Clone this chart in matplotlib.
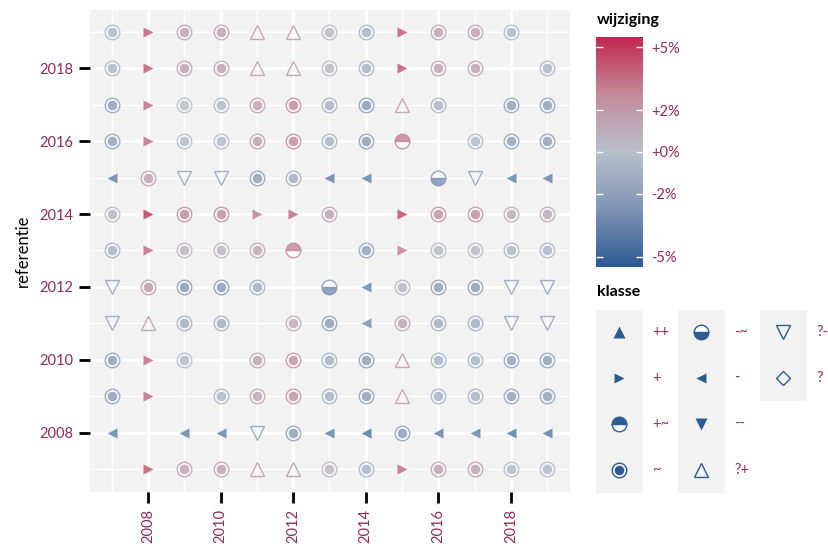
import numpy as np
import matplotlib
matplotlib.use("Agg")
import matplotlib.pyplot as plt
from matplotlib.colors import LinearSegmentedColormap, Normalize
from matplotlib.patches import Rectangle

plt.rcParams['font.family'] = ['Lato', 'DejaVu Sans']

# jaren (kolommen) en referentiejaren (rijen, van onder naar boven)
jaren = list(range(2007, 2020))
referenties = list(range(2007, 2020))

klasse = [
    ['', '+', '~', '~', '?+', '?+', '~', '~', '+', '~', '~', '~', '~'],      # 2007
    ['-', '', '-', '-', '?-', '~', '-', '-', '~', '-', '-', '-', '-'],       # 2008
    ['~', '+', '', '~', '~', '~', '~', '~', '?+', '~', '~', '~', '~'],       # 2009
    ['~', '+', '~', '', '~', '~', '~', '~', '?+', '~', '~', '~', '~'],       # 2010
    ['?-', '?+', '~', '~', '', '~', '~', '-', '~', '~', '~', '?-', '?-'],    # 2011
    ['?-', '~', '~', '~', '~', '', '-~', '-', '~', '~', '~', '?-', '?-'],    # 2012
    ['~', '+', '~', '~', '~', '+~', '', '~', '+', '~', '~', '~', '~'],       # 2013
    ['~', '+', '~', '~', '+', '+', '~', '', '+', '~', '~', '~', '~'],        # 2014
    ['-', '~', '?-', '?-', '~', '~', '-', '-', '', '-~', '?-', '-', '-'],    # 2015
    ['~', '+', '~', '~', '~', '~', '~', '~', '+~', '', '~', '~', '~'],       # 2016
    ['~', '+', '~', '~', '~', '~', '~', '~', '?+', '~', '', '~', '~'],       # 2017
    ['~', '+', '~', '~', '?+', '?+', '~', '~', '+', '~', '~', '', '~'],      # 2018
    ['~', '+', '~', '~', '?+', '?+', '~', '~', '+', '~', '~', '~', ''],      # 2019
]

nan = np.nan
wijziging = [
    [nan, 4.0, 1.5, 1.5, 2.0, 2.0, 0.5, -0.7, 3.5, 1.3, 1.5, -0.3, -0.3],
    [-3.5, nan, -3.5, -3.5, -1.8, -2.0, -3.5, -4.0, -2.0, -3.5, -3.5, -3.8, -3.8],
    [-2.0, 3.5, nan, -0.6, 1.3, 2.2, -0.9, -2.0, 2.0, -0.8, -0.8, -1.8, -1.8],
    [-2.0, 3.5, -0.3, nan, 1.3, 2.2, -0.9, -2.0, 2.0, -0.8, -0.8, -1.8, -1.8],
    [-1.8, 2.0, -1.0, -1.0, nan, 1.0, -2.0, -2.8, 1.3, -1.0, -1.0, -1.8, -1.8],
    [-1.8, 1.8, -2.2, -2.2, -1.0, nan, -2.5, -3.2, 0.5, -2.0, -2.0, -1.8, -1.8],
    [-0.7, 3.5, 0.6, 0.6, 1.2, 2.5, nan, -1.8, 3.0, 0.3, 0.3, -0.6, -0.6],
    [0.5, 5.0, 2.5, 2.5, 3.0, 3.5, 1.5, nan, 4.5, 2.2, 2.4, 1.0, 1.0],
    [-3.5, 1.5, -1.8, -1.8, -2.0, -1.0, -3.5, -3.5, nan, -2.5, -1.8, -3.5, -3.5],
    [-1.8, 3.5, -0.2, -0.3, 1.5, 2.6, -0.8, -2.0, 2.8, nan, -0.4, -1.8, -1.8],
    [-1.9, 3.5, -0.2, -0.4, 1.5, 2.6, -0.8, -2.2, 2.0, -0.7, nan, -1.8, -1.8],
    [-0.6, 4.0, 1.5, 1.5, 2.0, 2.0, 0.4, -0.8, 4.0, 1.5, 1.5, nan, -0.5],
    [-0.5, 4.0, 1.5, 1.5, 2.0, 2.0, 0.4, -0.8, 4.0, 1.5, 1.5, -0.5, nan],
]

legenda_klassen = [['++', '+', '+~', '~'], ['-~', '-', '--', '?+'], ['?-', '?']]

tekstkleur = '#8a2c5c'
donkerblauw = '#2d5b93'
cmap = LinearSegmentedColormap.from_list(
    'wijz', ['#2c5a92', '#7f93b3', '#b9c0cb', '#c48a9b', '#c1274e'])
norm = Normalize(-5.5, 5.5)


def teken(ax, x, y, k, kleur, alpha=0.85, schaal=1.0):
    """Tekent het symbool voor klasse k op (x, y)."""
    s = schaal
    if k == '~':
        ax.plot(x, y, 'o', ms=10.5 * s, mfc='none', mec=kleur, mew=1.0, alpha=alpha)
        ax.plot(x, y, 'o', ms=6.8 * s, mfc=kleur, mec='none', alpha=alpha)
    elif k == '+':
        ax.plot(x, y, '>', ms=7.5 * s, mfc=kleur, mec='none', alpha=alpha)
    elif k == '-':
        ax.plot(x, y, '<', ms=7.5 * s, mfc=kleur, mec='none', alpha=alpha)
    elif k == '++':
        ax.plot(x, y, '^', ms=8.5 * s, mfc=kleur, mec='none', alpha=alpha)
    elif k == '--':
        ax.plot(x, y, 'v', ms=8.5 * s, mfc=kleur, mec='none', alpha=alpha)
    elif k == '+~':
        ax.plot(x, y, 'o', ms=10.5 * s, fillstyle='top', mfc=kleur,
                markerfacecoloralt='white', mec=kleur, mew=1.0, alpha=alpha)
    elif k == '-~':
        ax.plot(x, y, 'o', ms=10.5 * s, fillstyle='bottom', mfc=kleur,
                markerfacecoloralt='white', mec=kleur, mew=1.0, alpha=alpha)
    elif k == '?+':
        ax.plot(x, y, '^', ms=9.5 * s, mfc='none', mec=kleur, mew=1.0, alpha=alpha)
    elif k == '?-':
        ax.plot(x, y, 'v', ms=9.5 * s, mfc='none', mec=kleur, mew=1.0, alpha=alpha)
    elif k == '?':
        ax.plot(x, y, 'D', ms=7.5 * s, mfc='none', mec=kleur, mew=1.0, alpha=alpha)


fig = plt.figure(figsize=(8.29, 5.44), dpi=100)
ax = fig.add_axes([90 / 829, 1 - 492 / 544, 480 / 829, 482 / 544])
ax.set_facecolor('#f2f2f2')

for i, ref in enumerate(referenties):
    for j, jaar in enumerate(jaren):
        k = klasse[i][j]
        if not k:
            continue
        teken(ax, jaar, ref, k, cmap(norm(wijziging[i][j])))

ax.set_xlim(2006.4, 2019.63)
ax.set_ylim(2006.37, 2019.6)
ax.set_xticks(range(2008, 2020, 2))
ax.set_yticks(range(2008, 2020, 2))
ax.set_xticks(range(2007, 2020, 2), minor=True)
ax.set_yticks(range(2007, 2020, 2), minor=True)
ax.grid(which='major', color='white', lw=2)
ax.grid(which='minor', color='white', lw=1)
ax.set_axisbelow(True)
ax.tick_params(which='major', length=8, width=2, color='black',
               labelcolor=tekstkleur, labelsize=10.5, pad=4)
ax.tick_params(which='minor', length=0)
ax.tick_params(axis='x', labelrotation=90)
for s in ax.spines.values():
    s.set_visible(False)
ax.set_ylabel('referentie', fontsize=12, labelpad=6)

# kleurenschaal
cax = fig.add_axes([596 / 829, 1 - 267 / 544, 47 / 829, 230 / 544])
cb = fig.colorbar(plt.cm.ScalarMappable(norm=norm, cmap=cmap), cax=cax)
cb.outline.set_visible(False)
cb.set_ticks([-5, -2, 0, 2, 5])
cb.set_ticklabels(['-5%', '-2%', '+0%', '+2%', '+5%'])
cax.tick_params(direction='in', color='white', length=5, width=1,
                left=True, right=True, labelcolor=tekstkleur, labelsize=10.5, pad=6)
fig.text(597 / 829, 1 - 20 / 544, 'wijziging', fontsize=11.5, fontweight='bold',
         va='center', ha='left')

# legenda klasse
lax = fig.add_axes([0, 0, 1, 1])
lax.set_xlim(0, 829)
lax.set_ylim(544, 0)
lax.axis('off')
fig.text(597 / 829, 1 - 292 / 544, 'klasse', fontsize=11.5, fontweight='bold',
         va='center', ha='left')
kol_x = [596, 678, 760]
rij_y = [332, 378, 424, 470]
for c, kolom in enumerate(legenda_klassen):
    x0 = kol_x[c]
    y1 = rij_y[len(kolom) - 1] + 23
    lax.add_patch(Rectangle((x0, 310), 47, y1 - 310, color='#f2f2f2', lw=0))
    for r, k in enumerate(kolom):
        teken(lax, x0 + 23.5, rij_y[r], k, donkerblauw, alpha=1)
        lax.text(x0 + 56, rij_y[r], k, color=tekstkleur, fontsize=10.5,
                 va='center', ha='left')

fig.savefig('out.png', dpi=100)
